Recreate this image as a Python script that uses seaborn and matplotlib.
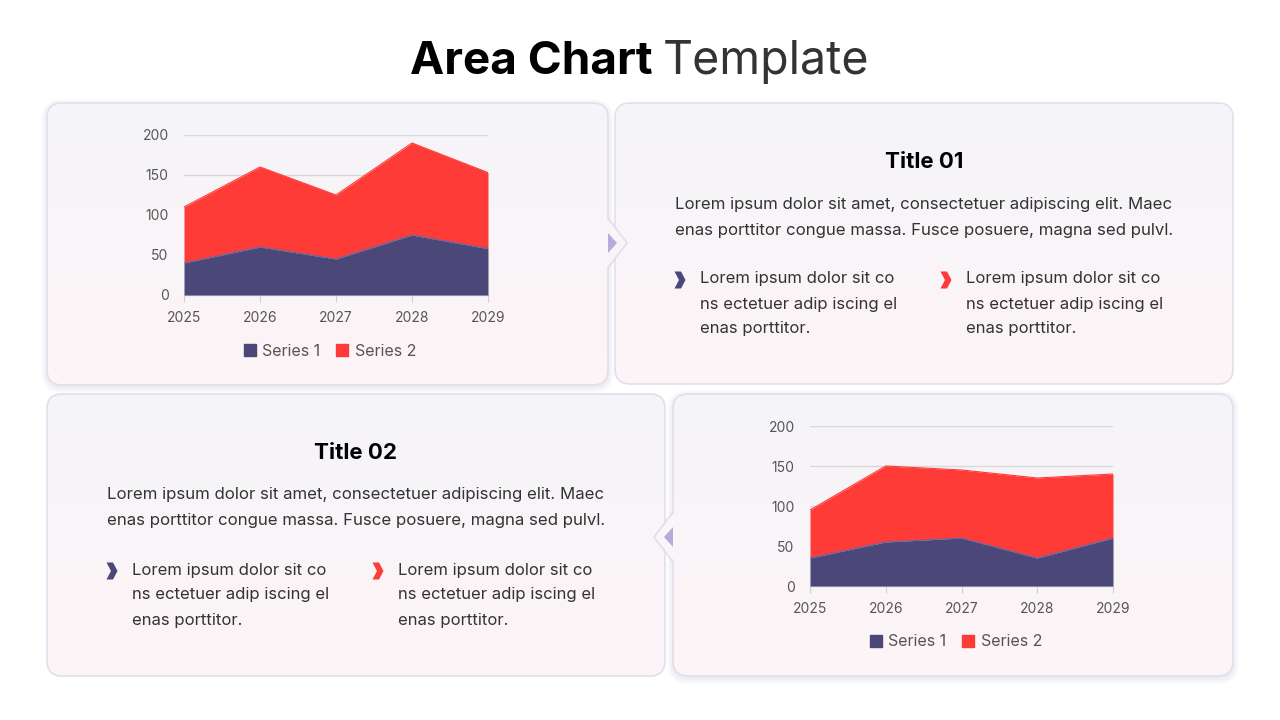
import numpy as np
import pandas as pd
import matplotlib
matplotlib.use("Agg")
import matplotlib.pyplot as plt
import matplotlib.colors as mcolors
from matplotlib.patches import FancyBboxPatch, Polygon, Patch
import seaborn as sns

# chart data
years = [2025, 2026, 2027, 2028, 2029]
top_series1 = [40, 60, 45, 75, 58]
top_series2 = [70, 100, 80, 115, 95]
bottom_series1 = [35, 55, 60, 35, 60]
bottom_series2 = [60, 95, 85, 100, 80]
series_names = ["Series 1", "Series 2"]
yticks = [0, 50, 100, 150, 200]

title_bold = "Area Chart"
title_light = "Template"
card_titles = ["Title 01", "Title 02"]
para_lines = ["Lorem ipsum dolor sit amet, consectetuer adipiscing elit. Maec",
              "enas porttitor congue massa. Fusce posuere, magna sed pulvl."]
bullet_lines = ["Lorem ipsum dolor sit co", "ns ectetuer adip iscing el", "enas porttitor."]

NAVY = "#4b4879"
RED = "#ff3b37"
CARD_TOP = "#f5f4fa"
CARD_BOT = "#fdf5f6"
BORDER = "#e2dfeb"
TEXT = "#333333"

sns.set_theme(style="white")
plt.rcParams["font.family"] = ["Inter", "DejaVu Sans"]

fig = plt.figure(figsize=(12.8, 7.2), dpi=100)
fig.patch.set_facecolor("white")
bg = fig.add_axes([0, 0, 1, 1])
bg.set_axis_off()

def gradient_rgb(n=200):
    c0 = np.array(mcolors.to_rgb(CARD_TOP))
    c1 = np.array(mcolors.to_rgb(CARD_BOT))
    t = np.linspace(0, 1, n)[:, None]
    return (c0 * (1 - t) + c1 * t)[:, None, :]

def card(x0, y0, x1, y1, shadow=False):
    if shadow:
        # soft shadow: stacked faint rounded rects growing outward
        for k in range(1, 7):
            s = FancyBboxPatch((x0 - k, y0 + 2 - k), x1 - x0 + 2 * k, y1 - y0 + 2 * k,
                               boxstyle="round,pad=0,rounding_size=%d" % (15 + k),
                               fc="#3a3a55", ec="none", alpha=0.012, zorder=1)
            bg.add_patch(s)
    p = FancyBboxPatch((x0, y0), x1 - x0, y1 - y0, boxstyle="round,pad=0,rounding_size=15",
                       fc="none", ec=BORDER, lw=1.2, zorder=3)
    bg.add_patch(p)
    im = bg.imshow(gradient_rgb(), extent=(x0, x1, y1, y0), aspect="auto", zorder=2)
    im.set_clip_path(p)

def mix_at(y, y0, y1):
    t = (y - y0) / (y1 - y0)
    c0 = np.array(mcolors.to_rgb(CARD_TOP))
    c1 = np.array(mcolors.to_rgb(CARD_BOT))
    return c0 * (1 - t) + c1 * t

def notch(xe, yc, direction, y0, y1):
    d = direction
    fill = mix_at(yc, y0, y1)
    outer = Polygon([(xe - d * 2, yc - 25), (xe + d * 19, yc), (xe - d * 2, yc + 25)],
                    closed=True, fc=fill, ec="none", zorder=4)
    bg.add_patch(outer)
    bg.plot([xe, xe + d * 19, xe], [yc - 25, yc, yc + 25], color=BORDER, lw=1.2, zorder=4)
    inner = Polygon([(xe, yc - 10), (xe + d * 9, yc), (xe, yc + 10)],
                    closed=True, fc="#b2aed9", ec="none", zorder=5)
    bg.add_patch(inner)

def chevron(cx, cy, color):
    w, h, t = 11, 17, 6.5
    pts = [(cx - w / 2, cy - h / 2), (cx - w / 2 + t, cy - h / 2), (cx + w / 2, cy),
           (cx - w / 2 + t, cy + h / 2), (cx - w / 2, cy + h / 2), (cx + w / 2 - t, cy)]
    bg.add_patch(Polygon(pts, closed=True, fc=color, ec="none", zorder=6))

# cards
card(47, 103, 608, 385, shadow=True)
card(615, 103, 1233, 384)
card(47, 394, 665, 676)
card(673, 394, 1233, 676, shadow=True)
notch(608, 243, 1, 103, 385)
notch(673, 537, -1, 394, 676)

bg.set_xlim(0, 1280)
bg.set_ylim(720, 0)

# page title
bg.text(653, 62, title_bold, ha="right", va="center", fontsize=33, fontweight="bold", color="#000000")
bg.text(663, 62, title_light, ha="left", va="center", fontsize=33.5, color="#333333")

def text_block(cx, ty, py, b1x, b2x, by):
    idx = 0 if cx > 640 else 1
    bg.text(cx, ty, card_titles[idx], ha="center", va="center", fontsize=16,
            fontweight="bold", color="#000000", zorder=7)
    for i, line in enumerate(para_lines):
        bg.text(cx, py + i * 25, line, ha="center", va="center", fontsize=12.1, color=TEXT, zorder=7)
    for bx, col in [(b1x, NAVY), (b2x, RED)]:
        chevron(bx - 20, by + 1, col)
        for i, line in enumerate(bullet_lines):
            bg.text(bx, by + i * 25, line, ha="left", va="center", fontsize=12, color=TEXT, zorder=7)

text_block(924, 162, 205, 700, 966, 279)
text_block(356, 453, 495, 132, 398, 570)

def area_chart(rect, s1, s2, legend_x):
    l, t, r, b = rect
    ax = fig.add_axes([l / 1280, (720 - b) / 720, (r - l) / 1280, (b - t) / 720])
    ax.patch.set_alpha(0)
    df = pd.DataFrame({"year": years, "s1": s1, "s2": s2})
    df["total"] = df["s1"] + df["s2"]
    ax.fill_between(df["year"], 0, df["s1"], color=NAVY, lw=0, zorder=3)
    ax.fill_between(df["year"], df["s1"], df["total"], color=RED, lw=0, zorder=2)
    sns.lineplot(data=df, x="year", y="s1", ax=ax, color="#6a66a0", lw=0.8, zorder=4)
    sns.lineplot(data=df, x="year", y="total", ax=ax, color=RED, lw=0.8, zorder=4)
    ax.set_xlim(years[0], years[-1])
    ax.set_ylim(0, 200)
    ax.set_yticks(yticks)
    ax.set_xticks(years)
    ax.set_xlabel("")
    ax.set_ylabel("")
    for sp in ["top", "right", "left"]:
        ax.spines[sp].set_visible(False)
    ax.spines["bottom"].set_color("#cfcfd6")
    ax.spines["bottom"].set_linewidth(1)
    ax.yaxis.grid(True, color="#d9d8de", lw=1)
    ax.set_axisbelow(True)
    ax.tick_params(axis="y", length=0, pad=11, labelsize=10, labelcolor="#555555")
    ax.tick_params(axis="x", length=5, width=0.8, color="#cfcfd6", pad=6.5,
                   labelsize=10, labelcolor="#555555", bottom=True)
    handles = [Patch(color=NAVY, label=series_names[0]), Patch(color=RED, label=series_names[1])]
    ax.legend(handles=handles, loc="center", bbox_to_anchor=((legend_x - l) / (r - l), -0.35),
              ncol=2, frameon=False, fontsize=11.5, handlelength=0.75, handleheight=0.75,
              handletextpad=0.4, columnspacing=1.0, labelcolor="#555555")
    return ax

area_chart((184, 135, 488, 295), top_series1, top_series2, 330)
area_chart((810, 426, 1113, 586), bottom_series1, bottom_series2, 956)

fig.savefig("out.png", dpi=100, facecolor="white")
